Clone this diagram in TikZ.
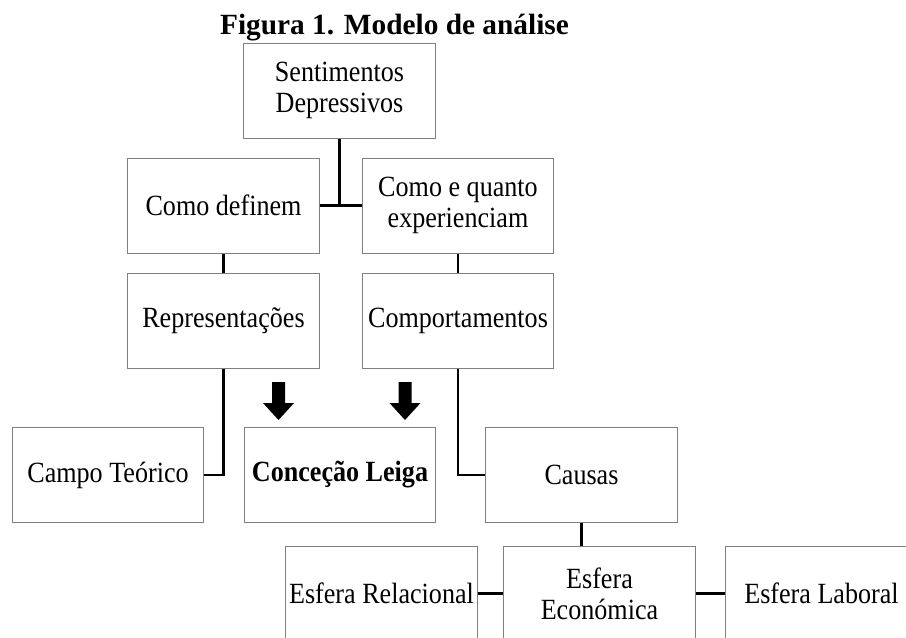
\documentclass[tikz,border=0pt]{standalone}
\usepackage{fontspec}
\setmainfont{Liberation Serif}
\newfontfamily\boxfont{Liberation Serif}[FakeStretch=0.89]
\begin{document}
\begin{tikzpicture}[x=0.75pt, y=-0.75pt,
    box/.style={draw=black!50, line width=0.75pt, minimum width=143.5pt, minimum height=71.25pt,
        inner sep=1pt, align=center, font=\boxfont\fontsize{22}{23}\selectfont},
    link/.style={line width=2pt, black}]
    \useasboundingbox (0,0) rectangle (906,637);

    % Title
    \node[font=\bfseries\fontsize{22}{23}\selectfont, anchor=base] (title) at (394.5,34) {Figura 1. Modelo de análise};

    % Top levels
    \node[box] (sent) at (339.5,90.5) {Sentimentos\\Depressivos};
    \node[box] (def) at (223.5,205.5) {Como definem};
    \node[box] (exp) at (458,205.5) {Como e quanto\\experienciam};
    \node[box] (rep) at (223.5,320.5) {Representações};
    \node[box] (comp) at (458,320.5) {Comportamentos};

    % Third level
    \node[box] (campo) at (108,475) {Campo Teórico};
    \node[box, font=\boxfont\bfseries\fontsize{22}{23}\selectfont] (leiga) at (340,475) {Conceção Leiga};
    \node[box] (causas) at (581.5,475) {Causas};

    % Spheres
    \node[box] (rel) at (381.5,593.5) {Esfera Relacional};
    \node[box] (econ) at (599.5,593.5) {Esfera\\Económica};
    \node[box] (lab) at (821.5,593.5) {Esfera Laboral};

    % Connectors
    \draw[link] (def.east) -- (exp.west);
    \draw[link] (sent.south) -- (sent.south |- def.east);
    \draw[link] (def.south) -- (rep.north);
    \draw[link] (exp.south) -- (comp.north);
    \draw[link] (rep.south) |- (campo.east);
    \draw[link] (comp.south) |- (causas.west);
    \draw[link] (causas.south) -- (causas.south |- econ.north);
    \draw[link] (rel.east) -- (econ.west);
    \draw[link] (econ.east) -- (lab.west);

    % Block arrows onto Conceção Leiga
    \foreach \ax in {278.5,405} {
        \fill[black] (\ax-6.5,382) -- (\ax+6.5,382) -- (\ax+6.5,403) -- (\ax+15.5,403)
            -- (\ax,420) -- (\ax-15.5,403) -- (\ax-6.5,403) -- cycle;
    }
\end{tikzpicture}
\end{document}
